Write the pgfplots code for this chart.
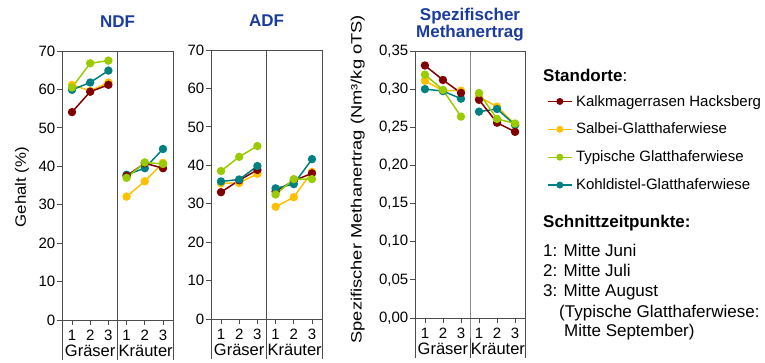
\documentclass[border=0pt]{standalone}
\usepackage{pgfplots}
\pgfplotsset{compat=1.18}
\usepackage{fontspec}
\setmainfont{Liberation Sans}
\definecolor{cKalk}{HTML}{800000}
\definecolor{cSalb}{HTML}{FFC000}
\definecolor{cTyp}{HTML}{99CC00}
\definecolor{cKohl}{HTML}{008080}
\definecolor{ctitle}{HTML}{1A3C9C}
\newcommand\tickfont{\fontsize{15}{18}\selectfont}
\newcommand\lfont{\fontsize{15}{18}\selectfont}
\newcommand\bfont{\fontsize{17}{20}\selectfont}
\newcommand\cfont{\fontsize{16.5}{19}\selectfont}
\newcommand\decor{%
  \draw[black!70, line width=0.9pt] (rel axis cs:0.5,1) -- (rel axis cs:0.5,0) -- ++(0pt,-40pt);
  \draw[black!70, line width=0.9pt] (rel axis cs:0,0) -- ++(0pt,-40pt);
  \draw[black!70, line width=0.9pt] (rel axis cs:1,0) -- ++(0pt,-40pt);
  \path (rel axis cs:0.254,0) ++(0pt,-37pt) node[anchor=base, inner sep=0pt, font=\cfont] {Gräser};
  \path (rel axis cs:0.754,0) ++(0pt,-37pt) node[anchor=base, inner sep=0pt, font=\cfont] {Kräuter};
}
\pgfplotsset{
  panel/.style={
    scale only axis, anchor=south west,
    xmin=0.45, xmax=6.55, xtick={1,2,3,4,5,6}, xticklabels={1,2,3,1,2,3},
    axis line style={draw=black!70, line width=0.9pt},
    ytick pos=left, xtick pos=bottom,
    tick align=outside, major tick length=5pt,
    tick style={draw=black!70, line width=0.8pt},
    ticklabel style={font=\tickfont},
    yticklabel style={inner sep=1.5pt},
    xticklabel style={inner sep=0pt, yshift=-5pt},
    /pgf/number format/assume math mode=true,
    clip=false, unbounded coords=jump,
  },
  ser/.style={color=#1, line width=1.5pt, mark=*, mark size=3.4pt},
}
\begin{document}
\begin{tikzpicture}
\useasboundingbox (0,0) rectangle (765pt,363pt);
% ---------- NDF ----------
\begin{axis}[panel, at={(62pt,43pt)}, width=111pt, height=269pt,
  ymin=0, ymax=70, ytick={0,10,...,70},
  ylabel={Gehalt (\%)},
  ylabel style={at={(axis description cs:-0.36,0.494)}, anchor=center, font=\lfont, xscale=1.12}]
\addplot[ser=cSalb] coordinates {(1,61.2)(2,59.6)(3,61.8)(3.5,nan)(4,32.1)(5,36.1)(6,40.9)};
\addplot[ser=cKohl] coordinates {(1,59.9)(2,61.8)(3,64.9)(3.5,nan)(4,37.8)(5,39.5)(6,44.5)};
\addplot[ser=cKalk] coordinates {(1,54.1)(2,59.4)(3,61.2)(3.5,nan)(4,37.5)(5,40.8)(6,39.5)};
\addplot[ser=cTyp] coordinates {(1,60.5)(2,66.8)(3,67.5)(3.5,nan)(4,37.0)(5,41.0)(6,40.6)};
\decor
\node[font=\bfont\bfseries, text=ctitle, anchor=base] at (rel axis cs:0.5,1.089) {NDF};
\end{axis}
% ---------- ADF ----------
\begin{axis}[panel, at={(211pt,44pt)}, width=111pt, height=269pt,
  ymin=0, ymax=70, ytick={0,10,...,70}]
\addplot[ser=cSalb] coordinates {(1,35.3)(2,35.4)(3,37.8)(3.5,nan)(4,29.2)(5,31.7)(6,38.3)};
\addplot[ser=cKalk] coordinates {(1,33.0)(2,36.1)(3,38.8)(3.5,nan)(4,33.2)(5,36.0)(6,37.9)};
\addplot[ser=cKohl] coordinates {(1,35.8)(2,36.3)(3,39.8)(3.5,nan)(4,34.0)(5,35.1)(6,41.6)};
\addplot[ser=cTyp] coordinates {(1,38.5)(2,42.2)(3,45.0)(3.5,nan)(4,32.4)(5,36.4)(6,36.4)};
\decor
\node[font=\bfont\bfseries, text=ctitle, anchor=base] at (rel axis cs:0.5,1.089) {ADF};
\end{axis}
% ---------- Methanertrag ----------
\begin{axis}[panel, at={(415pt,45pt)}, width=110pt, height=267pt,
  ymin=0, ymax=0.35, ytick={0,0.05,0.1,0.15,0.2,0.25,0.3,0.35},
  scaled y ticks=false,
  yticklabel style={/pgf/number format/.cd, fixed, fixed zerofill, precision=2, use comma},
  ylabel={Spezifischer Methanertrag (Nm³/kg oTS)},
  ylabel style={at={(axis description cs:-0.52,0.52)}, anchor=center, font=\lfont, xscale=1.22},
  legend style={at={(axis description cs:1.20,0.835)}, anchor=north west, draw=none, fill=none,
    inner sep=0pt, row sep=15.5pt, font=\lfont,
    nodes={inner sep=0pt}, column sep=0pt},
  legend cell align=left,
  legend image code/.code={\draw[#1, line width=1.3pt, mark size=2.8pt, mark repeat=2, mark phase=2] plot coordinates {(0pt,0pt)(12pt,0pt)(24pt,0pt)};\path (28pt,0pt);},
]
\addplot[ser=cSalb, forget plot] coordinates {(1,0.311)(2,0.298)(3,0.298)(3.5,nan)(4,0.290)(5,0.277)(6,0.254)};
\addplot[ser=cKohl, forget plot] coordinates {(1,0.300)(2,0.2975)(3,0.2875)(3.5,nan)(4,0.2705)(5,0.274)(6,0.253)};
\addplot[ser=cKalk, forget plot] coordinates {(1,0.331)(2,0.312)(3,0.295)(3.5,nan)(4,0.286)(5,0.256)(6,0.244)};
\addplot[ser=cTyp, forget plot] coordinates {(1,0.319)(2,0.299)(3,0.264)(3.5,nan)(4,0.295)(5,0.261)(6,0.255)};
\addlegendimage{cKalk, mark=*}
\addlegendentry{Kalkmagerrasen Hacksberg}
\addlegendimage{cSalb, mark=*}
\addlegendentry{Salbei-Glatthaferwiese}
\addlegendimage{cTyp, mark=*}
\addlegendentry{Typische Glatthaferwiese}
\addlegendimage{cKohl, mark=*}
\addlegendentry{Kohldistel-Glatthaferwiese}
\decor
\node[font=\bfont\bfseries, text=ctitle, anchor=base] at (rel axis cs:0.5,1.116) {Spezifischer};
\node[font=\bfont\bfseries, text=ctitle, anchor=base] at (rel axis cs:0.5,1.049) {Methanertrag};
\end{axis}
% ---------- Text at right ----------
\node[anchor=base west, inner sep=0pt, font=\bfont] at (543pt,281pt) {\textbf{Standorte}:};
\node[anchor=base west, inner sep=0pt, font=\bfont\bfseries] at (543pt,135pt) {Schnittzeitpunkte:};
\node[anchor=base west, inner sep=0pt, font=\bfont] at (543pt,106pt) {1: Mitte Juni};
\node[anchor=base west, inner sep=0pt, font=\bfont] at (543pt,86pt) {2: Mitte Juli};
\node[anchor=base west, inner sep=0pt, font=\bfont] at (543pt,66pt) {3: Mitte August};
\node[anchor=base west, inner sep=0pt, font=\bfont] at (559pt,45pt) {(Typische Glatthaferwiese:};
\node[anchor=base west, inner sep=0pt, font=\bfont] at (564pt,26pt) {Mitte September)};
\end{tikzpicture}
\end{document}
